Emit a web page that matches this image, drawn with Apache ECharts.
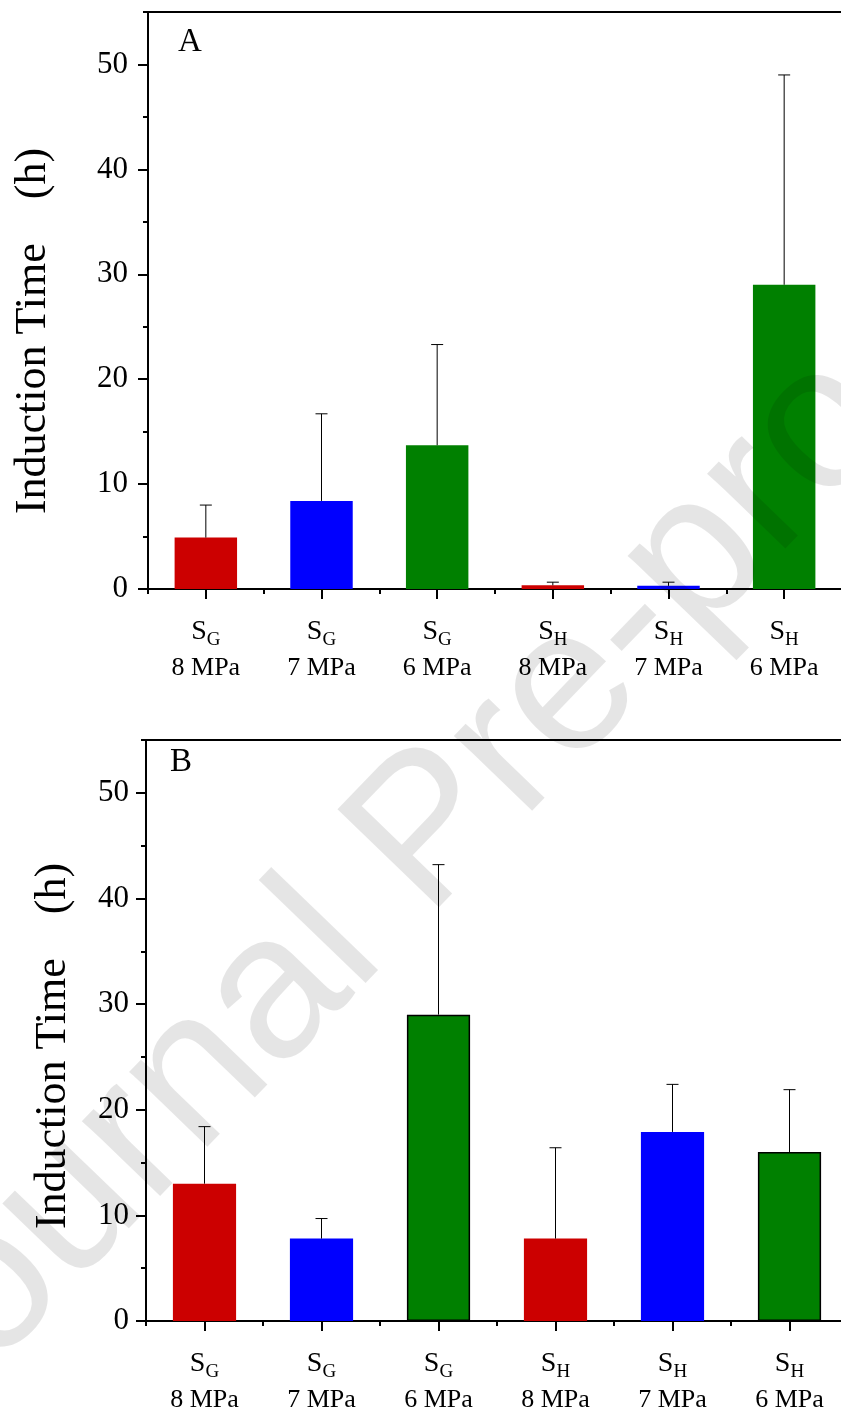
<!DOCTYPE html>
<html><head><meta charset="utf-8">
<script src="https://cdn.jsdelivr.net/npm/echarts@6/dist/echarts.min.js"></script>
<style>html,body{margin:0;padding:0;background:#fff;overflow:hidden}#c{width:841px;height:1414px}</style>
</head><body><div id="c"></div>
<script>
// ---- data ----
const categories = ['S_G 8 MPa', 'S_G 7 MPa', 'S_G 6 MPa', 'S_H 8 MPa', 'S_H 7 MPa', 'S_H 6 MPa'];
const catSub = ['G', 'G', 'G', 'H', 'H', 'H'];
const catPressure = ['8 MPa', '7 MPa', '6 MPa', '8 MPa', '7 MPa', '6 MPa'];
const barColors = ['#cc0000', '#0000ff', '#008000', '#cc0000', '#0000ff', '#008000'];
const meanA = [4.9, 8.4, 13.7, 0.35, 0.3, 29.0];
const errA = [3.1, 8.3, 9.6, 0.3, 0.35, 20.0];
const meanB = [13.0, 7.8, 29.0, 7.8, 17.9, 16.0];
const errB = [5.4, 1.9, 14.2, 8.6, 4.5, 5.9];
const yMajorTicks = [0, 10, 20, 30, 40, 50];
const yMinorTicks = [0, 5, 10, 15, 20, 25, 30, 35, 40, 45, 50, 55];
const yTitle = 'Induction Time    (h)';
const panelLabels = ['A', 'B'];
const watermark = 'Journal Pre-proof';

const SERIF = '"Liberation Serif", "Times New Roman", serif';
const chart = echarts.init(document.getElementById('c'), null, {renderer: 'canvas'});

const grids = [
  {left: 148, top: 12, width: 694, height: 577},
  {left: 146, top: 740, width: 702, height: 581}
];
const labelMargins = [20, 17];
const means = [meanA, meanB];
const errs = [errA, errB];

const xAxis = [], yAxis = [], series = [];
grids.forEach((g, gi) => {
  xAxis.push({
    type: 'category', gridIndex: gi, data: categories, boundaryGap: true, position: 'bottom',
    axisLine: {show: true, onZero: false, lineStyle: {color: '#000', width: 2}},
    axisTick: {show: true, alignWithLabel: false, length: 5, lineStyle: {color: '#000', width: 2}},
    axisLabel: {
      margin: 24, interval: 0,
      formatter: (v, i) => '{s|S}{sub|' + catSub[i] + '}\n{m|' + catPressure[i] + '}',
      rich: {
        s: {fontFamily: SERIF, fontSize: 28, lineHeight: 37, color: '#000', verticalAlign: 'middle'},
        sub: {fontFamily: SERIF, fontSize: 19, lineHeight: 23, color: '#000', verticalAlign: 'bottom'},
        m: {fontFamily: SERIF, fontSize: 26, lineHeight: 37, color: '#000', verticalAlign: 'middle'}
      }
    },
    splitLine: {show: false}
  });
  xAxis.push({
    type: 'category', gridIndex: gi, data: categories, boundaryGap: true, position: 'bottom',
    axisLine: {show: false, onZero: false},
    axisTick: {show: true, alignWithLabel: true, length: 10, lineStyle: {color: '#000', width: 2}},
    axisLabel: {show: false}, splitLine: {show: false}
  });
  xAxis.push({
    type: 'category', gridIndex: gi, data: categories, boundaryGap: true, position: 'top',
    axisLine: {show: true, onZero: false, lineStyle: {color: '#000', width: 2}},
    axisTick: {show: false}, axisLabel: {show: false}, splitLine: {show: false}
  });
  yAxis.push({
    type: 'value', gridIndex: gi, min: 0, max: 55, interval: 5, position: 'left',
    axisLine: {show: true, onZero: false, lineStyle: {color: '#000', width: 2}},
    axisTick: {show: true, length: 5, customValues: yMinorTicks, lineStyle: {color: '#000', width: 2}},
    axisLabel: {
      margin: labelMargins[gi], color: '#000', fontFamily: SERIF, fontSize: 31,
      customValues: yMajorTicks,
      formatter: v => (v % 10 === 0 ? String(v) : '')
    },
    splitLine: {show: false}
  });
  yAxis.push({
    type: 'value', gridIndex: gi, min: 0, max: 55, interval: 10, position: 'left',
    axisLine: {show: false, onZero: false},
    axisTick: {show: true, length: 10, customValues: yMajorTicks, lineStyle: {color: '#000', width: 2}},
    axisLabel: {show: false}, splitLine: {show: false}
  });
  series.push({
    type: 'bar', xAxisIndex: gi * 3, yAxisIndex: gi * 2, barWidth: '54%', z: 2,
    data: means[gi].map((m, i) => ({
      value: m,
      itemStyle: {
        color: barColors[i],
        borderColor: (gi === 1 && barColors[i] === '#008000') ? '#000' : barColors[i],
        borderWidth: (gi === 1 && barColors[i] === '#008000') ? 1.5 : 0
      }
    })),
    silent: true
  });
  series.push({
    type: 'custom', xAxisIndex: gi * 3, yAxisIndex: gi * 2, z: 3, silent: true,
    data: means[gi].map((m, i) => [i, m, m + errs[gi][i]]),
    encode: {x: 0, y: [1, 2]},
    renderItem: (params, api) => {
      const x = api.value(0);
      const p0 = api.coord([x, api.value(1)]);
      const p1 = api.coord([x, api.value(2)]);
      const st = {stroke: '#000', lineWidth: 1};
      return {
        type: 'group',
        children: [
          {type: 'line', shape: {x1: p0[0], y1: p0[1], x2: p1[0], y2: p1[1]}, style: st},
          {type: 'line', shape: {x1: p1[0] - 6, y1: p1[1], x2: p1[0] + 6, y2: p1[1]}, style: st}
        ]
      };
    }
  });
});

const graphic = [
  {type: 'text', x: 33, y: 331, rotation: Math.PI / 2, z: 10, silent: true,
   style: {text: yTitle, fontFamily: SERIF, fontSize: 44, fill: '#000', align: 'center', verticalAlign: 'middle'}},
  {type: 'text', x: 53, y: 1046, rotation: Math.PI / 2, z: 10, silent: true,
   style: {text: yTitle, fontFamily: SERIF, fontSize: 44, fill: '#000', align: 'center', verticalAlign: 'middle'}},
  {type: 'text', x: 178, y: 26, z: 10, silent: true,
   style: {text: panelLabels[0], fontFamily: SERIF, fontSize: 33, fill: '#000', align: 'left', verticalAlign: 'top'}},
  {type: 'text', x: 170, y: 746, z: 10, silent: true,
   style: {text: panelLabels[1], fontFamily: SERIF, fontSize: 33, fill: '#000', align: 'left', verticalAlign: 'top'}},
  {type: 'text', x: 430, y: 835, rotation: 46 * Math.PI / 180, z: 100, silent: true,
   style: {text: watermark, fontFamily: '"Liberation Sans", Arial, sans-serif', fontSize: 205,
           fill: 'rgba(0,0,0,0.1)', align: 'center', verticalAlign: 'middle'}}
];

chart.setOption({
  animation: false,
  backgroundColor: '#fff',
  grid: grids.map(g => Object.assign({show: false, containLabel: false, outerBoundsMode: 'none'}, g)),
  xAxis, yAxis, series, graphic
});
</script>
</body></html>
